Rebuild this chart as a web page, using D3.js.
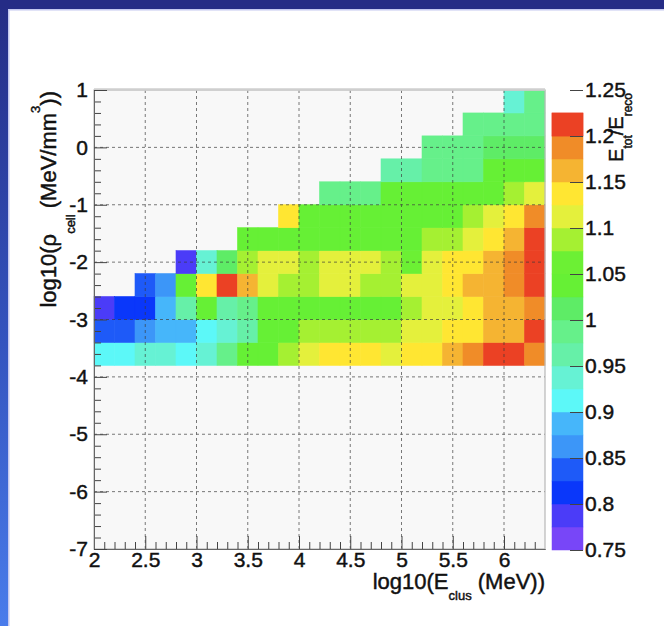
<!DOCTYPE html>
<html><head><meta charset="utf-8">
<script src="https://cdn.jsdelivr.net/npm/d3@7"></script>
<style>html,body{margin:0;padding:0;background:#fff;} svg{display:block;}</style>
</head><body><svg id="c" width="664" height="626"></svg>
<script>
const _ = null;
// bin low edges
const eLow   = [2.0,2.2,2.4,2.6,2.8,3.0,3.2,3.4,3.6,3.8,4.0,4.2,4.4,4.6,4.8,5.0,5.2,5.4,5.6,5.8,6.0,6.2];
const eWidth = 0.2;
const rhoLow = [-3.8,-3.4,-3.0,-2.6,-2.2,-1.8,-1.4,-1.0,-0.6,-0.2,0.2,0.6];
const rhoWidth = 0.4;
// E_tot/E_reco per (rho row, E column)
const ratioR0  = [.91,.91,.94,.94,.91,.94,.99,1.04,1.04,1.09,1.11,1.14,1.14,1.14,1.11,1.14,1.14,1.16,1.19,1.21,1.21,1.19];
const ratioR1  = [.84,.84,.86,.89,.89,.91,.94,.96,1.04,1.04,1.09,1.09,1.09,1.09,1.09,1.11,1.11,1.14,1.14,1.16,1.16,1.21];
const ratioR2  = [.79,.81,.81,.89,.96,1.04,.96,.99,1.04,1.04,1.04,1.04,1.04,1.04,1.04,1.09,1.11,1.11,1.14,1.16,1.16,1.19];
const ratioR3  = [_,_,.84,.86,1.04,1.14,1.21,1.16,1.11,1.09,1.09,1.11,1.11,1.09,1.09,1.11,1.11,1.14,1.16,1.16,1.19,1.21];
const ratioR4  = [_,_,_,_,.79,.94,1.01,1.09,1.11,1.11,1.09,1.11,1.11,1.11,1.09,1.06,1.11,1.14,1.14,1.16,1.19,1.21];
const ratioR5  = [_,_,_,_,_,_,_,1.04,1.04,1.04,1.04,1.04,1.04,1.04,1.04,1.04,1.09,1.09,1.11,1.14,1.16,1.21];
const ratioR6  = [_,_,_,_,_,_,_,_,_,1.14,1.04,1.04,1.04,1.04,1.04,1.04,1.04,1.04,1.09,1.11,1.14,1.19];
const ratioR7  = [_,_,_,_,_,_,_,_,_,_,_,.99,.99,.99,1.04,1.04,1.04,1.04,1.04,1.04,1.09,1.11];
const ratioR8  = [_,_,_,_,_,_,_,_,_,_,_,_,_,_,.96,.96,.99,.99,.99,1.04,1.04,1.04];
const ratioR9  = [_,_,_,_,_,_,_,_,_,_,_,_,_,_,_,_,.99,.99,.99,1.01,1.01,1.01];
const ratioR10 = [_,_,_,_,_,_,_,_,_,_,_,_,_,_,_,_,_,_,.99,.99,.99,.99];
const ratioR11 = [_,_,_,_,_,_,_,_,_,_,_,_,_,_,_,_,_,_,_,_,.94,.99];
const ratioRows = [ratioR0,ratioR1,ratioR2,ratioR3,ratioR4,ratioR5,ratioR6,ratioR7,ratioR8,ratioR9,ratioR10,ratioR11];

const xTicks = [2,2.5,3,3.5,4,4.5,5,5.5,6];
const xMinor = [2.1,2.2,2.3,2.4,2.6,2.7,2.8,2.9,3.1,3.2,3.3,3.4,3.6,3.7,3.8,3.9,4.1,4.2,4.3,4.4,4.6,4.7,4.8,4.9,5.1,5.2,5.3,5.4,5.6,5.7,5.8,5.9,6.1,6.2,6.3];
const yTicks = [1,0,-1,-2,-3,-4,-5,-6,-7];
const yMinor = [0.8,0.6,0.4,0.2,-0.2,-0.4,-0.6,-0.8,-1.2,-1.4,-1.6,-1.8,-2.2,-2.4,-2.6,-2.8,-3.2,-3.4,-3.6,-3.8,-4.2,-4.4,-4.6,-4.8,-5.2,-5.4,-5.6,-5.8,-6.2,-6.4,-6.6,-6.8];
const zTicks = [0.75,0.8,0.85,0.9,0.95,1,1.05,1.1,1.15,1.2,1.25];
const paletteColors = ['#7846f8','#4b3cf8','#0a37fa','#1e5af8','#3c96f8','#46b6fa','#5cf8f8','#66f2d4','#66f0a8','#66f08a',
                       '#5eec66','#66f035','#6cf034','#a5f032','#e4f03c','#ffe632','#f5b432','#f08c28','#eb4124','#eb4124'];

const FONT = "'Liberation Sans', Arial, Helvetica, sans-serif";
const svg = d3.select('#c');
svg.append('rect').attr('width',664).attr('height',626).attr('fill','#fff');

// blue slide frame
const defs = svg.append('defs');
const lg = defs.append('linearGradient').attr('id','lb').attr('x1',0).attr('y1',0).attr('x2',0).attr('y2',1);
lg.append('stop').attr('offset','0%').attr('stop-color','#252c85');
lg.append('stop').attr('offset','55%').attr('stop-color','#3454bf');
lg.append('stop').attr('offset','100%').attr('stop-color','#4a7ceb');
svg.append('rect').attr('x',0).attr('y',0).attr('width',8).attr('height',626).attr('fill','url(#lb)');
svg.append('rect').attr('x',0).attr('y',0).attr('width',664).attr('height',9).attr('fill','#252c86');
svg.append('rect').attr('x',8).attr('y',9).attr('width',1.5).attr('height',617).attr('fill','#c4c8f0');
svg.append('rect').attr('x',8).attr('y',9).attr('width',656).attr('height',1.5).attr('fill','#c4c8f0');

const x = d3.scaleLinear().domain([2,6.4]).range([94,545]);
const y = d3.scaleLinear().domain([-7,1]).range([549,90]);
const color = d3.scaleQuantize().domain([0.75,1.25]).range(paletteColors);

// frame fill
svg.append('rect').attr('x',x(2)).attr('y',y(1)).attr('width',x(6.4)-x(2)).attr('height',y(-7)-y(1)).attr('fill','#f8f8f8');

const cells = [];
ratioRows.forEach((row,j) => row.forEach((v,i) => { if (v !== null) cells.push({e:eLow[i], r:rhoLow[j], v}); }));
svg.append('g').selectAll('rect').data(cells).join('rect')
  .attr('x', d => x(d.e)).attr('y', d => y(d.r + rhoWidth))
  .attr('width', d => x(d.e + eWidth) - x(d.e)).attr('height', d => y(d.r) - y(d.r + rhoWidth))
  .attr('fill', d => color(d.v)).attr('stroke', d => color(d.v)).attr('stroke-width', 0.6);

// grid
const grid = svg.append('g').attr('stroke','#3a3a3a').attr('stroke-width',0.9).attr('stroke-dasharray','3,3').attr('opacity',0.75);
xTicks.filter(v => v > 2 && v < 6.4).forEach(v => grid.append('line').attr('x1',x(v)).attr('x2',x(v)).attr('y1',y(1)).attr('y2',y(-7)));
yTicks.filter(v => v < 1 && v > -7).forEach(v => grid.append('line').attr('x1',x(2)).attr('x2',x(6.4)).attr('y1',y(v)).attr('y2',y(v)));

// frame border
svg.append('rect').attr('x',x(2)).attr('y',y(1)).attr('width',x(6.4)-x(2)).attr('height',y(-7)-y(1))
  .attr('fill','none').attr('stroke','#b8b8b8').attr('stroke-width',1.2);
svg.append('line').attr('x1',x(2)).attr('x2',x(6.4)).attr('y1',y(1)-0.5).attr('y2',y(1)-0.5).attr('stroke','#cfcfcf').attr('stroke-width',2.5);

function thick(sel){ return sel.attr('stroke','#111').attr('stroke-width',0.45).attr('paint-order','stroke'); }
function styleAxis(g){
  g.select('.domain').attr('stroke','#666');
  g.selectAll('.tick line').attr('stroke','#444');
  thick(g.selectAll('.tick text').attr('font-family',FONT).attr('font-size',21).attr('fill','#111'));
}
const fmt = d => String(d);
// x axis
svg.append('g').attr('transform',`translate(0,${y(-7)})`)
  .call(d3.axisBottom(x).tickValues(xMinor).tickSize(-7).tickSizeOuter(0).tickFormat(''))
  .call(styleAxis);
svg.append('g').attr('transform',`translate(0,${y(-7)})`)
  .call(d3.axisBottom(x).tickValues(xTicks).tickSize(-13).tickSizeOuter(0).tickPadding(3).tickFormat(fmt))
  .call(styleAxis);
// y axis
svg.append('g').attr('transform',`translate(${x(2)},0)`)
  .call(d3.axisLeft(y).tickValues(yMinor).tickSize(-7).tickSizeOuter(0).tickFormat(''))
  .call(styleAxis);
svg.append('g').attr('transform',`translate(${x(2)},0)`)
  .call(d3.axisLeft(y).tickValues(yTicks).tickSize(-13).tickSizeOuter(0).tickPadding(6).tickFormat(fmt))
  .call(styleAxis);

// axis titles
const xt = thick(svg.append('text').attr('x',545).attr('y',589).attr('text-anchor','end')
  .attr('font-family',FONT).attr('font-size',22).attr('fill','#111'));
xt.append('tspan').text('log10(E');
xt.append('tspan').attr('font-size',13).attr('dy',11).text('clus');
xt.append('tspan').attr('dy',-11).text(' (MeV))');

const yt = thick(svg.append('text').attr('transform','translate(56,91) rotate(-90)').attr('text-anchor','end')
  .attr('font-family',FONT).attr('font-size',22).attr('fill','#111'));
yt.append('tspan').text('log10(ρ');
yt.append('tspan').attr('font-size',13).attr('dy',19).text('cell');
yt.append('tspan').attr('dy',-19).text(' (MeV/mm');
yt.append('tspan').attr('font-size',13).attr('dy',-16).text('3');
yt.append('tspan').attr('dy',16).text('))');

// colour bar
const cb = d3.scaleLinear().domain([0.75,1.25]).range([550,90]);
svg.append('g').selectAll('rect').data(paletteColors).join('rect')
  .attr('x',552).attr('width',31)
  .attr('y', c => cb(color.invertExtent(c)[1])).attr('height', c => cb(color.invertExtent(c)[0]) - cb(color.invertExtent(c)[1]))
  .attr('fill', c => c).attr('stroke', c => c).attr('stroke-width',0.5);
const cbAxis = svg.append('g').attr('transform','translate(583,0)')
  .call(d3.axisRight(cb).tickValues(zTicks).tickSize(-13).tickSizeOuter(0).tickPadding(2).tickFormat(fmt))
  .call(styleAxis);
cbAxis.select('.domain').remove();

const zt = thick(svg.append('text').attr('transform','translate(623,93) rotate(-90)').attr('text-anchor','end')
  .attr('font-family',FONT).attr('font-size',20).attr('fill','#111'));
zt.append('tspan').text('E');
zt.append('tspan').attr('font-size',12).attr('dy',9).text('tot');
zt.append('tspan').attr('dy',-9).text('/E');
zt.append('tspan').attr('font-size',12).attr('dy',9).text('reco');
</script>
</body></html>
